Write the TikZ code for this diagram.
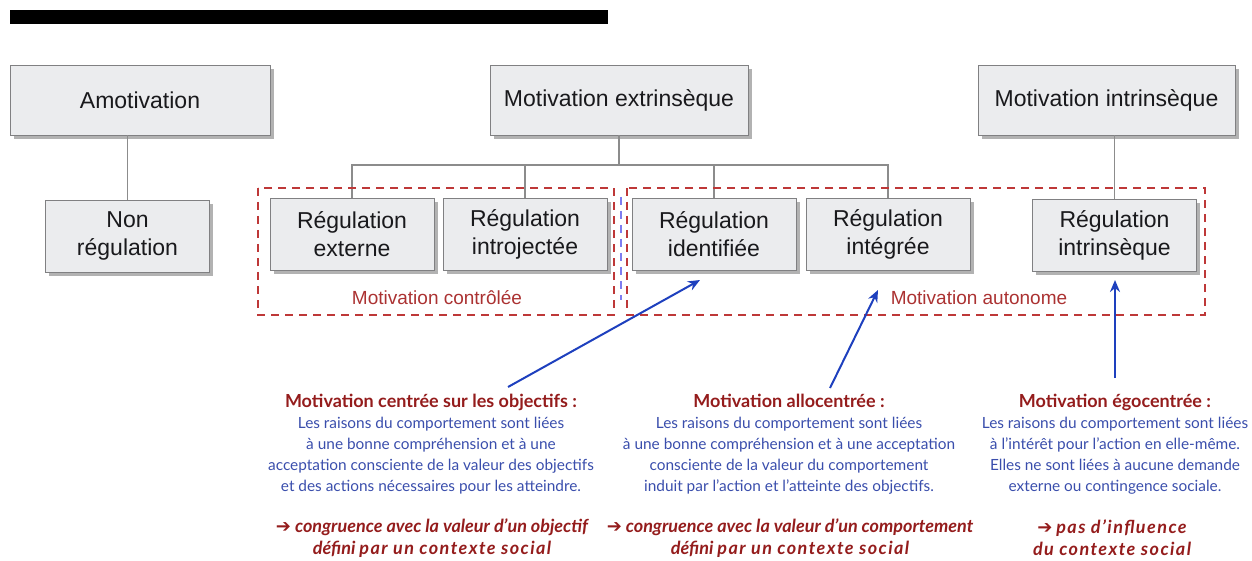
\documentclass[tikz,border=0pt]{standalone}
\usepackage{fontspec}
\setmainfont{Liberation Sans}
\newfontfamily\notefont{Lato}
\newfontfamily\arrowfont{DejaVu Sans}
\usepackage{xcolor}
\definecolor{mvbox}{RGB}{235,236,238}
\definecolor{mvframe}{RGB}{128,128,130}
\definecolor{mvtext}{RGB}{25,25,28}
\definecolor{mvline}{RGB}{140,140,140}
\definecolor{mvred}{RGB}{190,56,56}
\definecolor{mvtitle}{RGB}{148,28,28}
\definecolor{mvblue}{RGB}{58,78,172}
\definecolor{mvarrow}{RGB}{30,64,190}
\definecolor{mvsplit}{RGB}{125,125,240}
\usetikzlibrary{arrows.meta,shadows}
\tikzset{
  mvnode/.style={draw=mvframe, fill=mvbox, text=mvtext, align=center,
                 font=\fontsize{11.5}{14}\selectfont, inner sep=0pt,
                 minimum width=#1, minimum height=35pt,
                 drop shadow={shadow xshift=1.8pt, shadow yshift=-1.8pt, fill=black, opacity=0.3}},
  regnode/.style={mvnode=82pt, minimum height=36pt},
  tree/.style={draw=mvline, line width=0.6pt},
  zone/.style={draw=mvred, dashed, line width=0.8pt, dash pattern=on 4pt off 3pt},
  zonelabel/.style={text=mvred!90!black, font=\fontsize{9.5}{11}\selectfont},
  note/.style={text=mvblue, align=center, font=\notefont\fontsize{7.7}{10.5}\selectfont},
  concl/.style={text=mvtitle, align=center, font=\notefont\bfseries\itshape\fontsize{9}{11}\selectfont},
  link/.style={-{Stealth[length=6pt, width=5pt]}, draw=mvarrow, line width=1pt},
}
\newcommand{\ttl}[1]{{\color{mvtitle}\bfseries\fontsize{9}{10.5}\selectfont #1}}
\newcommand{\rarr}{{\arrowfont\bfseries ➔}}
\newcommand{\spaced}[1]{{\addfontfeature{LetterSpace=8}#1}}

\begin{document}
\begin{tikzpicture}[x=0.5pt, y=-0.5pt]
\useasboundingbox (0,0) rectangle (1252,561);

% Title bar
\fill[black] (10,10) rectangle (608,24);

% Main categories
\node[mvnode=130pt] (amot) at (140,100) {Amotivation};
\node[mvnode=129pt] (extr) at (619,100) {Motivation extrinsèque};
\node[mvnode=128.5pt] (intr) at (1106.5,100) {Motivation intrinsèque};

% Regulation types
\node[regnode] (nonreg) at (127.5,236) {Non\\régulation};
\node[regnode] (rext) at (352,234) {Régulation\\externe};
\node[regnode] (rintro) at (525,234) {Régulation\\introjectée};
\node[regnode] (rid) at (714,234) {Régulation\\identifiée};
\node[regnode] (rinteg) at (888,234) {Régulation\\intégrée};
\node[regnode] (rintr) at (1114.5,235) {Régulation\\intrinsèque};

% Tree
\coordinate (bus) at (620,165);
\draw[tree] (nonreg.north) -- (nonreg.north |- amot.south);
\draw[tree] (extr.south) -- (extr.south |- bus);
\draw[tree] (rext.north) -- (rext.north |- bus) -| (rinteg.north);
\foreach \n in {rintro, rid}
  \draw[tree] (\n.north) -- (\n.north |- bus);
\draw[tree] (rintr.north) -- (rintr.north |- intr.south);

% Controlled / autonomous zones
\draw[zone] (258,188) rectangle (614,315);
\draw[zone] (627,188) rectangle (1205,315);
\draw[draw=mvsplit, dashed, line width=0.8pt, dash pattern=on 4pt off 3pt] (621,197) -- (621,300);
\node[zonelabel] (lctrl) at (437,298) {Motivation contrôlée};
\node[zonelabel] (lauto) at (979,298) {Motivation autonome};

% Explanations
\node[note] (desc1) at (431,444) {\ttl{Motivation centrée sur les objectifs :}\\
  Les raisons du comportement sont liées\\
  à une bonne compréhension et à une\\
  acceptation consciente de la valeur des objectifs\\
  et des actions nécessaires pour les atteindre.};
\node[note] (desc2) at (789,444) {\ttl{Motivation allocentrée :}\\
  Les raisons du comportement sont liées\\
  à une bonne compréhension et à une acceptation\\
  consciente de la valeur du comportement\\
  induit par l’action et l’atteinte des objectifs.};
\node[note] (desc3) at (1115,444) {\ttl{Motivation égocentrée :}\\
  Les raisons du comportement sont liées\\
  à l’intérêt pour l’action en elle-même.\\
  Elles ne sont liées à aucune demande\\
  externe ou contingence sociale.};

\node[concl] (concl1) at (432,538) {\rarr{} congruence avec la valeur d’un objectif\\
  défini \spaced{par un contexte social}};
\node[concl] (concl2) at (790,538) {\rarr{} congruence avec la valeur d’un comportement\\
  défini \spaced{par un contexte social}};
\node[concl] (concl3) at (1112,538) {\rarr{} \spaced{pas d’influence}\\
  \spaced{du contexte social}};

% Links to regulation types
\coordinate (s1) at (508,387);
\coordinate (s2) at (830,388);
\coordinate (s3) at (1115,378);
\draw[link] (s1) -- (700,280);
\draw[link] (s2) -- (878,290);
\draw[link] (s3) -- (s3 |- 0,280);

\end{tikzpicture}
\end{document}
